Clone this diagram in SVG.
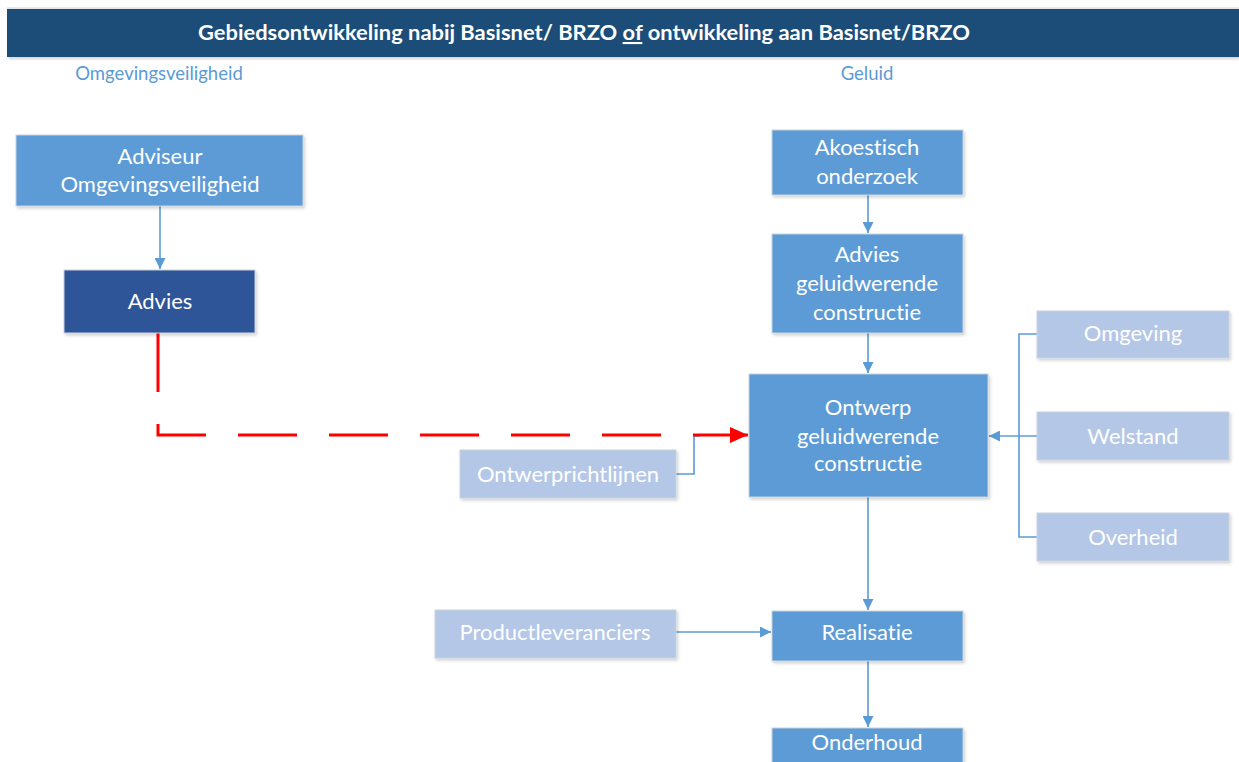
<svg xmlns="http://www.w3.org/2000/svg" width="1239" height="762" viewBox="0 0 1239 762">
  <style>
    text { font-variant-ligatures: none; }
    .box { stroke: #c9d3de; stroke-width: 1; filter: url(#shadow); }
    .mid { fill: #5b9bd5; }
    .dark { fill: #2f5597; }
    .light { fill: #b4c7e7; }
    .lbl { font-family: Lato, "Open Sans", sans-serif; font-size: 22px; fill: #ffffff; text-anchor: middle; }
    .sec { font-family: Lato, "Open Sans", sans-serif; font-size: 18.5px; fill: #5b9bd5; text-anchor: middle; }
    .link { fill: none; stroke: #5b9bd5; stroke-width: 1.6; }
    .red { fill: none; stroke: #ff0000; stroke-width: 3; stroke-dasharray: 59 32; }
  </style>
  <defs>
    <filter id="shadow" x="-10%" y="-10%" width="125%" height="130%">
      <feDropShadow dx="1.5" dy="2" stdDeviation="1.5" flood-color="#000000" flood-opacity="0.18"/>
    </filter>
    <marker id="arrow" viewBox="0 0 10 10" refX="10" refY="5" markerWidth="11" markerHeight="11" markerUnits="userSpaceOnUse" orient="auto">
      <path d="M0,0 L10,5 L0,10 z" fill="#5b9bd5"/>
    </marker>
    <marker id="arrowRed" viewBox="0 0 18 16" refX="18" refY="8" markerWidth="18" markerHeight="16" markerUnits="userSpaceOnUse" orient="auto">
      <path d="M0,0 L18,8 L0,16 z" fill="#ff0000"/>
    </marker>
  </defs>

  <rect width="1239" height="762" fill="#ffffff"/>

  <!-- title bar -->
  <g id="header">
    <line x1="7" y1="8" x2="1239" y2="8" stroke="#d0d0d0" stroke-width="1"/>
    <rect x="7" y="9" width="1232" height="48" fill="#1f4e79" filter="url(#shadow)"/>
    <text x="584" y="40" font-family="Lato, 'Open Sans', sans-serif" font-size="21" font-weight="bold" fill="#ffffff" text-anchor="middle" textLength="772" lengthAdjust="spacingAndGlyphs">Gebiedsontwikkeling nabij Basisnet/ BRZO <tspan text-decoration="underline">of</tspan> ontwikkeling aan Basisnet/BRZO</text>
  </g>

  <g id="section-labels">
    <text class="sec" x="159" y="80">Omgevingsveiligheid</text>
    <text class="sec" x="867" y="80">Geluid</text>
  </g>

  <!-- connectors -->
  <g id="connectors">
    <line class="link" x1="160" y1="206" x2="160" y2="269" marker-end="url(#arrow)"/>
    <line class="link" x1="868" y1="195" x2="868" y2="233" marker-end="url(#arrow)"/>
    <line class="link" x1="868" y1="333" x2="868" y2="373" marker-end="url(#arrow)"/>
    <line class="link" x1="868" y1="497" x2="868" y2="610" marker-end="url(#arrow)"/>
    <line class="link" x1="868" y1="661" x2="868" y2="727" marker-end="url(#arrow)"/>
    <line class="link" x1="676" y1="632" x2="771" y2="632" marker-end="url(#arrow)"/>
    <polyline class="link" points="1037,334 1019,334 1019,537 1037,537"/>
    <line class="link" x1="1037" y1="436" x2="989" y2="436" marker-end="url(#arrow)"/>
    <polyline class="link" points="676,474 694,474 694,436 700,436"/>
    <polyline class="red" points="158,333 158,435 748,435" marker-end="url(#arrowRed)"/>
  </g>

  <g id="n-adviseur">
    <rect class="box mid" x="16" y="135" width="287" height="71"/>
    <text class="lbl" x="160" y="164">Adviseur</text>
    <text class="lbl" x="160" y="192">Omgevingsveiligheid</text>
  </g>
  <g id="n-advies">
    <rect class="box dark" x="64" y="270" width="191" height="63"/>
    <text class="lbl" x="160" y="309">Advies</text>
  </g>
  <g id="n-akoestisch">
    <rect class="box mid" x="772" y="130" width="191" height="65"/>
    <text class="lbl" x="867" y="155">Akoestisch</text>
    <text class="lbl" x="867" y="184">onderzoek</text>
  </g>
  <g id="n-advies-geluid">
    <rect class="box mid" x="772" y="234" width="191" height="99"/>
    <text class="lbl" x="867" y="262">Advies</text>
    <text class="lbl" x="867" y="291">geluidwerende</text>
    <text class="lbl" x="867" y="320">constructie</text>
  </g>
  <g id="n-ontwerp">
    <rect class="box mid" x="749" y="374" width="239" height="123"/>
    <text class="lbl" x="868" y="415">Ontwerp</text>
    <text class="lbl" x="868" y="444">geluidwerende</text>
    <text class="lbl" x="868" y="471">constructie</text>
  </g>
  <g id="n-ontwerprichtlijnen">
    <rect class="box light" x="460" y="450" width="216" height="48"/>
    <text class="lbl" x="568" y="482">Ontwerprichtlijnen</text>
  </g>
  <g id="n-omgeving">
    <rect class="box light" x="1037" y="311" width="192" height="47"/>
    <text class="lbl" x="1133" y="341">Omgeving</text>
  </g>
  <g id="n-welstand">
    <rect class="box light" x="1037" y="412" width="192" height="48"/>
    <text class="lbl" x="1133" y="444">Welstand</text>
  </g>
  <g id="n-overheid">
    <rect class="box light" x="1037" y="513" width="192" height="48"/>
    <text class="lbl" x="1133" y="545">Overheid</text>
  </g>
  <g id="n-productleveranciers">
    <rect class="box light" x="435" y="610" width="241" height="48"/>
    <text class="lbl" x="555" y="640">Productleveranciers</text>
  </g>
  <g id="n-realisatie">
    <rect class="box mid" x="772" y="611" width="191" height="50"/>
    <text class="lbl" x="867" y="640">Realisatie</text>
  </g>
  <g id="n-onderhoud">
    <rect class="box mid" x="772" y="728" width="191" height="50"/>
    <text class="lbl" x="867" y="750">Onderhoud</text>
  </g>
</svg>
